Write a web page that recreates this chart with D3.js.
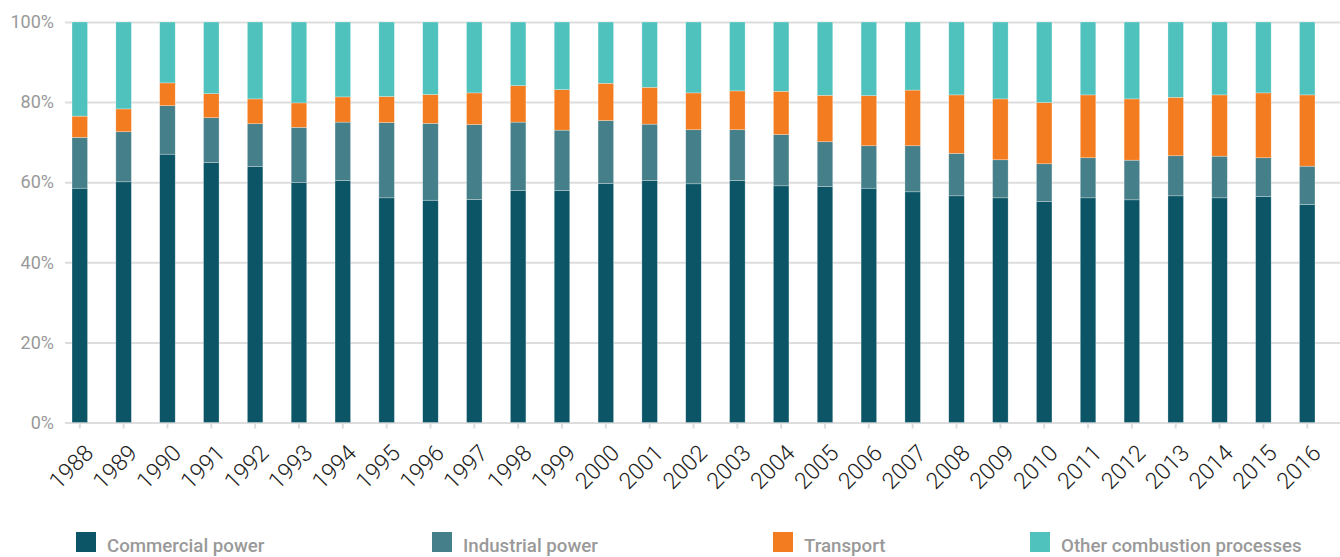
<!DOCTYPE html>
<html>
<head>
<meta charset="utf-8">
<script src="https://cdn.jsdelivr.net/npm/d3@7"></script>
<style>
  body { margin: 0; background: #fff; }
  text { font-family: Roboto, "Open Sans", sans-serif; }
</style>
</head>
<body>
<script>
// years on the x axis
const years = [1988, 1989, 1990, 1991, 1992, 1993, 1994, 1995, 1996, 1997, 1998, 1999, 2000, 2001, 2002,
    2003, 2004, 2005, 2006, 2007, 2008, 2009, 2010, 2011, 2012, 2013, 2014, 2015, 2016];

// shares in % per year
const commercialPower = [58.5, 60.1, 67.0, 64.9, 63.9, 59.9, 60.4, 56.1, 55.5, 55.7, 57.9, 57.9, 59.7, 60.4, 59.6,
    60.4, 59.1, 58.9, 58.5, 57.6, 56.6, 56.1, 55.2, 56.1, 55.6, 56.6, 56.1, 56.4, 54.4];
const industrialPower = [12.7, 12.5, 12.1, 11.2, 10.7, 13.8, 14.6, 18.8, 19.2, 18.7, 17.1, 15.1, 15.7, 14.1, 13.5,
    12.7, 12.8, 11.2, 10.6, 11.5, 10.6, 9.5, 9.4, 10.0, 9.9, 10.0, 10.4, 9.7, 9.6];
const transport = [5.3, 5.7, 5.7, 6.0, 6.2, 6.1, 6.3, 6.5, 7.2, 7.9, 9.1, 10.1, 9.3, 9.2, 9.2,
    9.7, 10.8, 11.6, 12.5, 13.9, 14.6, 15.2, 15.3, 15.7, 15.3, 14.6, 15.3, 16.2, 17.8];
const otherCombustion = [23.5, 21.7, 15.2, 17.9, 19.2, 20.2, 18.7, 18.6, 18.1, 17.7, 15.9, 16.9, 15.3, 16.3, 17.7,
    17.2, 17.3, 18.3, 18.4, 17.0, 18.2, 19.2, 20.1, 18.2, 19.2, 18.8, 18.2, 17.7, 18.2];

const seriesNames = ["Commercial power", "Industrial power", "Transport", "Other combustion processes"];
const seriesColors = ["#0b5566", "#457f8a", "#f47c20", "#4fc2bd"];
const yTicks = [0, 20, 40, 60, 80, 100];

const width = 1340, height = 557;
const svg = d3.select("body").append("svg")
    .attr("width", width)
    .attr("height", height);

const rows = years.map((y, i) => ({
    year: y,
    "Commercial power": commercialPower[i],
    "Industrial power": industrialPower[i],
    "Transport": transport[i],
    "Other combustion processes": otherCombustion[i]
}));

const stack = d3.stack().keys(seriesNames);
const stacked = stack(rows);

let x = d3.scaleBand()
    .domain(years)
    .range([65, 1322])
    .paddingInner(0.646)
    .paddingOuter(0.16);

let y = d3.scaleLinear()
    .domain([0, 100])
    .range([422.5, 22]);

const color = d3.scaleOrdinal().domain(seriesNames).range(seriesColors);

// gridlines + y labels
let yAxis = d3.axisLeft(y)
    .tickValues(yTicks)
    .tickSize(-(1340 - 65))
    .tickPadding(11)
    .tickFormat(d => d + "%");
svg.append("g")
    .attr("transform", "translate(65,0)")
    .call(yAxis)
    .call(g => g.select(".domain").remove())
    .call(g => g.selectAll(".tick line").attr("stroke", "#dddddd").attr("stroke-width", 2))
    .call(g => g.selectAll(".tick text")
        .attr("fill", "#999999")
        .style("font-size", "18px"));

// x axis ticks and rotated year labels
let xAxis = d3.axisBottom(x).tickSize(6).tickSizeOuter(0);
svg.append("g")
    .attr("transform", "translate(0,422.5)")
    .call(xAxis)
    .call(g => g.select(".domain").remove())
    .call(g => g.selectAll(".tick line").attr("stroke", "#dddddd").attr("stroke-width", 2))
    .call(g => g.selectAll(".tick text")
        .attr("fill", "#222222")
        .style("font-size", "23px")
        .style("font-weight", 300)
        .attr("text-anchor", "end")
        .attr("dy", 0)
        .attr("y", 0)
        .attr("transform", "translate(15,32) rotate(-45)"));

// bars
svg.append("g")
    .selectAll("g")
    .data(stacked)
    .enter()
    .append("g")
        .attr("fill", d => color(d.key))
    .selectAll("rect")
    .data(d => d)
    .enter()
    .append("rect")
        .attr("x", d => x(d.data.year))
        .attr("y", d => y(d[1]))
        .attr("width", x.bandwidth())
        .attr("height", d => y(d[0]) - y(d[1]))
        .attr("stroke", "rgba(255,255,255,0.45)")
        .attr("stroke-width", 0.6);

// legend
const legendX = [76, 432, 773, 1030];
let legend = svg.append("g")
    .selectAll(".legend-item")
    .data(seriesNames)
    .enter()
    .append("g")
        .classed("legend-item", true)
        .attr("transform", (d, i) => "translate(" + legendX[i] + ",532)");
legend.append("rect")
    .attr("width", 20)
    .attr("height", 20)
    .attr("fill", d => color(d));
legend.append("text")
    .attr("x", 31)
    .attr("y", 20)
    .attr("fill", "#999999")
    .style("font-size", "18.7px")
    .style("font-weight", 500)
    .text(d => d);
</script>
</body>
</html>
